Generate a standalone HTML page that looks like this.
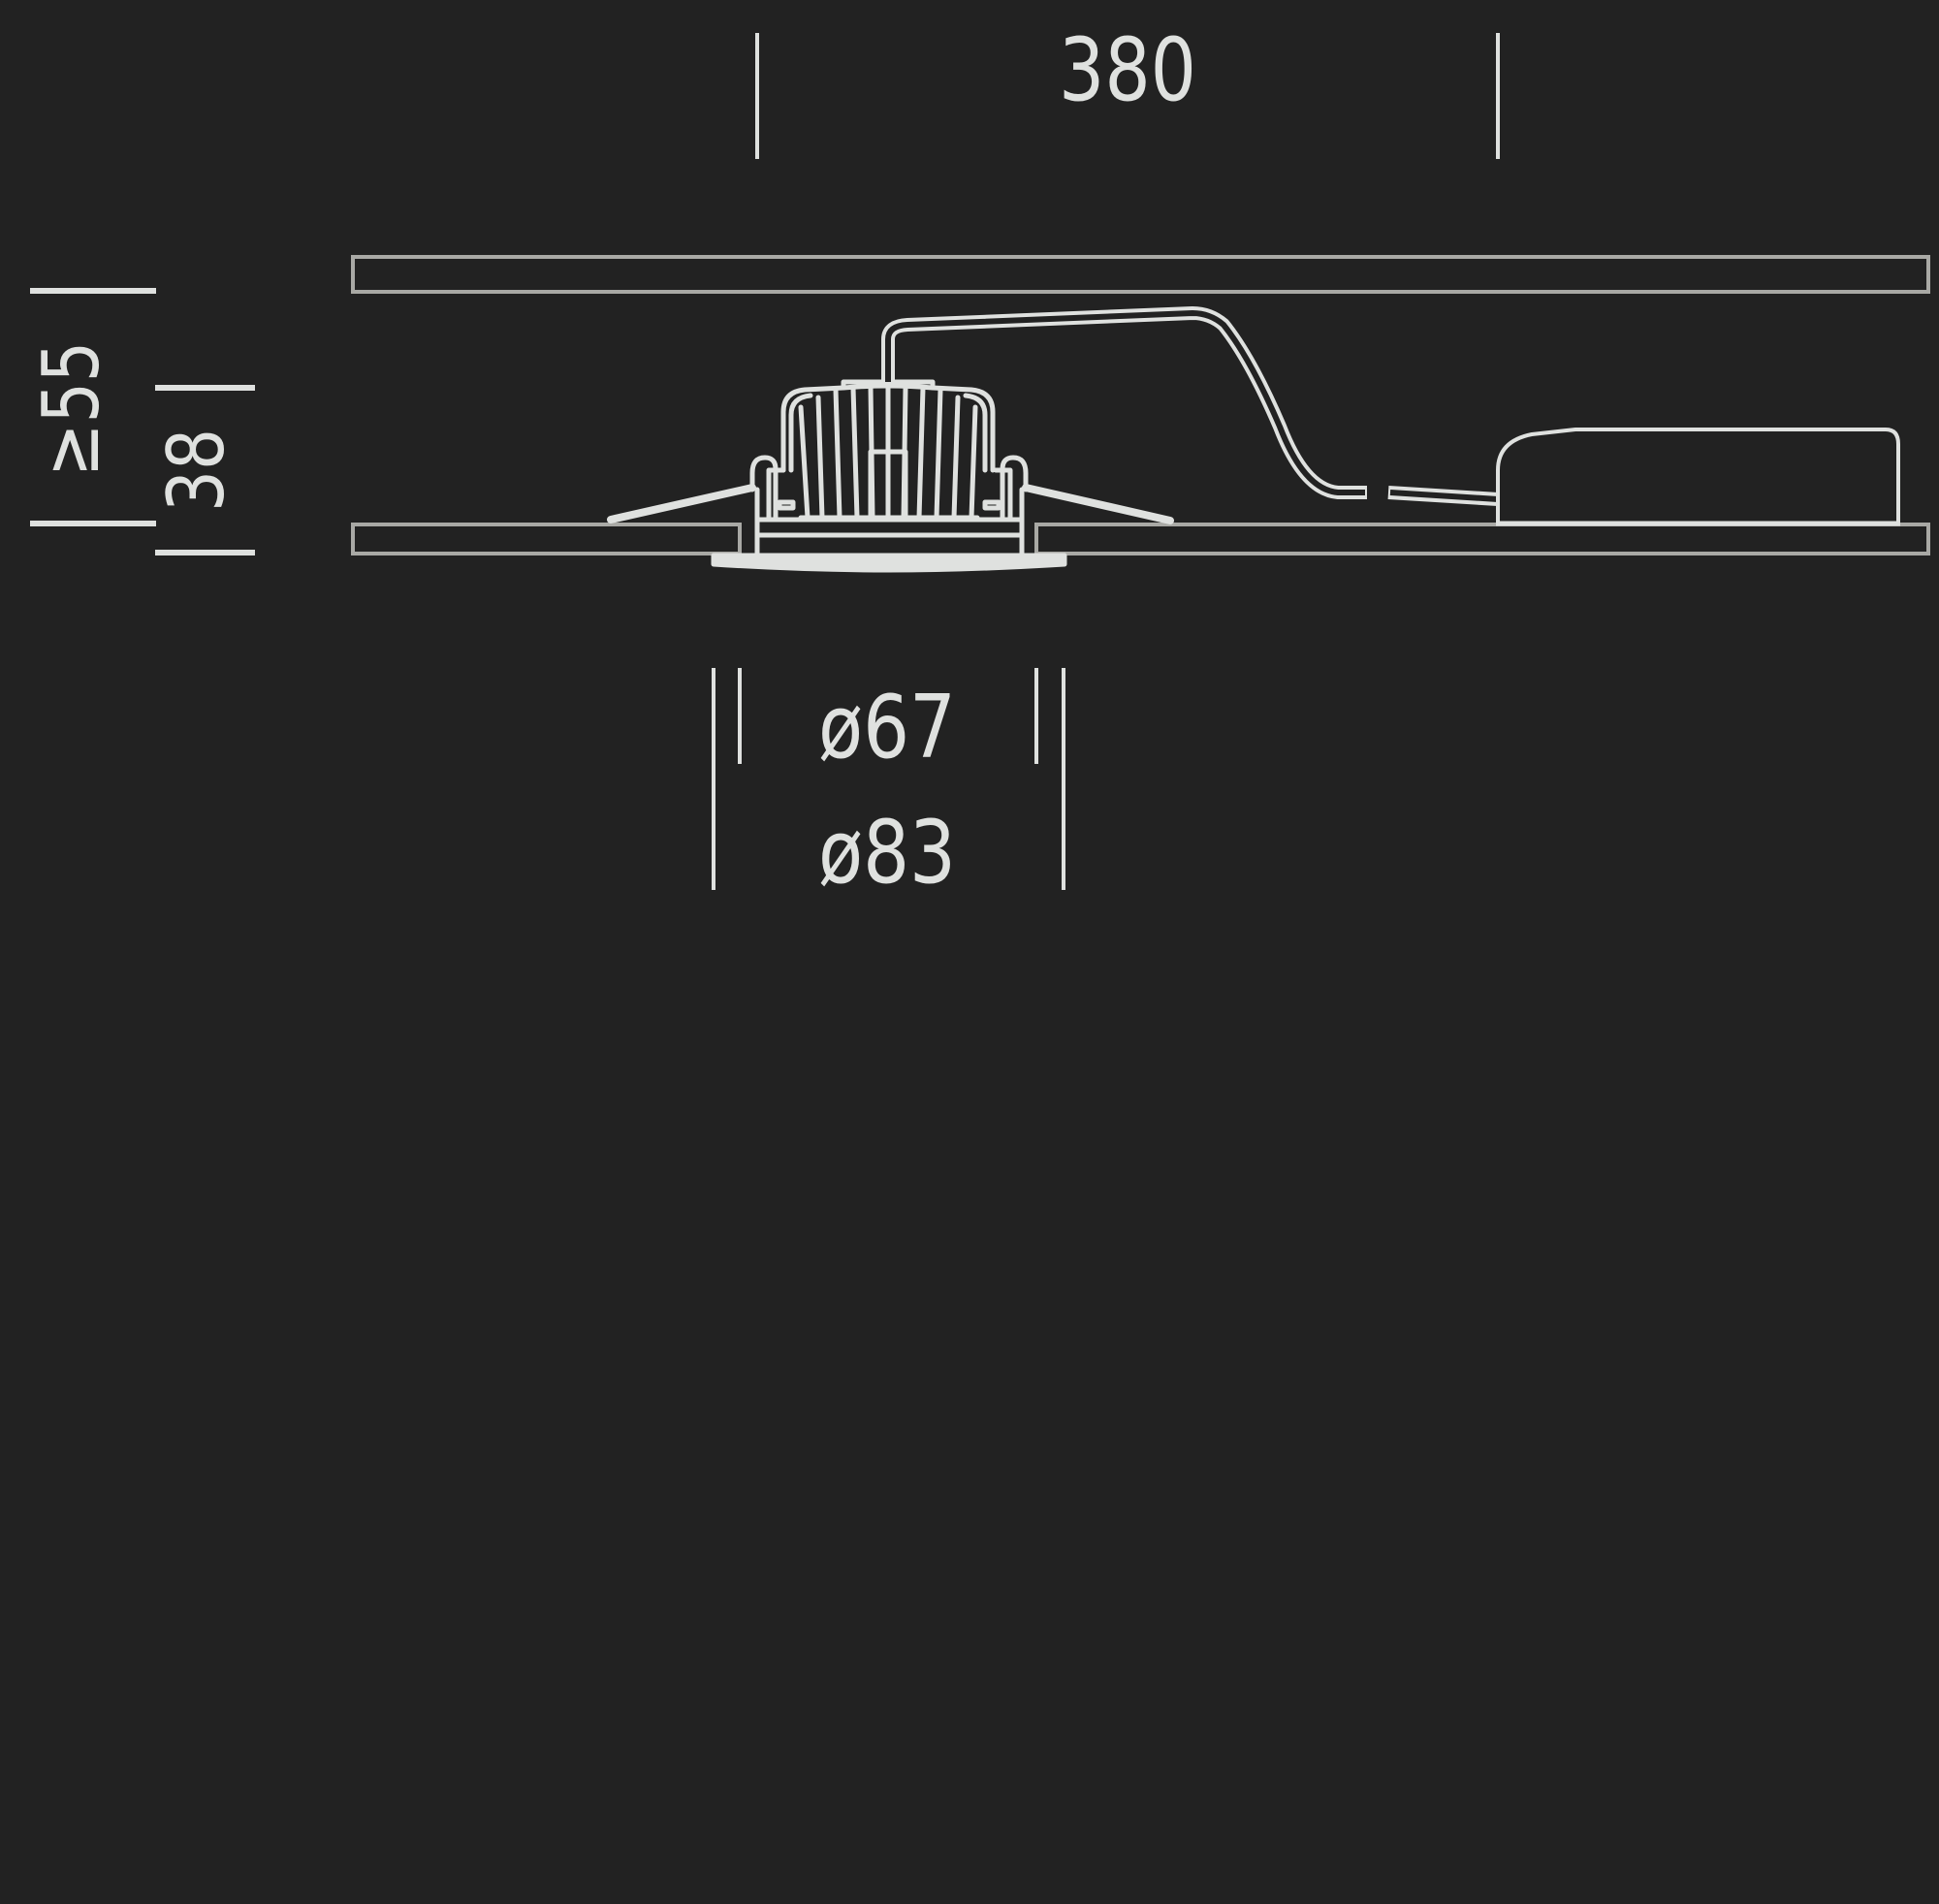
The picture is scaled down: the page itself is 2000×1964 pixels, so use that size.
<!DOCTYPE html>
<html><head><meta charset="utf-8"><style>
html,body{margin:0;padding:0;background:#222222;}
svg{display:block}
text{font-family:"DejaVu Sans Condensed","DejaVu Sans","Liberation Sans",sans-serif;fill:#dfe1df;}
</style></head><body>
<svg width="2000" height="1964" viewBox="0 0 2000 1964" xmlns="http://www.w3.org/2000/svg">
<rect width="2000" height="1964" fill="#222222"/>
<g stroke="#dfe1df" stroke-width="4" fill="none">
  <line x1="781" y1="34" x2="781" y2="164"/>
  <line x1="1545" y1="34" x2="1545" y2="164"/>
  <line x1="31" y1="300" x2="161" y2="300" stroke-width="6"/>
  <line x1="31" y1="540" x2="161" y2="540" stroke-width="6"/>
  <line x1="160" y1="400" x2="263" y2="400" stroke-width="6"/>
  <line x1="160" y1="570" x2="263" y2="570" stroke-width="6"/>
  <line x1="763" y1="689" x2="763" y2="788"/>
  <line x1="1069" y1="689" x2="1069" y2="788"/>
  <line x1="736" y1="689" x2="736" y2="918"/>
  <line x1="1097" y1="689" x2="1097" y2="918"/>
</g>
<g stroke="#a9a9a5" stroke-width="4" fill="none">
  <rect x="364" y="265" width="1625" height="36"/>
  <path d="M763 541 H364 V571 H763 Z"/>
  <path d="M1069 541 H1989 V571 H1069 Z"/>
</g>
<g stroke="#dfe1df" stroke-width="5" fill="none" stroke-linejoin="round" stroke-linecap="round">
  <path d="M736 573 H1098 V582 Q1000 588 916 588 Q830 588 736 582 Z" fill="#dfe1df"/>
  <path d="M781 572 V505 M1054 572 V505"/>
  <line x1="783" y1="552" x2="1052" y2="552"/>
  <line x1="783" y1="536" x2="1052" y2="536"/>
  <path d="M793 536 V485 H808"/>
  <path d="M1042 536 V485 H1027"/>
  <path d="M776 505 V488 Q776 472 789 472 Q800 472 800 484 V536"/>
  <path d="M1058 505 V488 Q1058 472 1045 472 Q1034 472 1034 484 V536"/>
  <line x1="630" y1="536" x2="776" y2="503" stroke-width="8"/>
  <line x1="1058" y1="503" x2="1207" y2="537" stroke-width="8"/>
  <path d="M808 485 V425 Q808 404 830 402 L870 400 Q916 396 962 400 L1002 402 Q1024 404 1024 425 V485"/>
  <path d="M816 485 V428 Q816 410 836 408"/>
  <path d="M1016 485 V428 Q1016 410 996 408"/>
  <path d="M833 534 L826 420 M848 534 L844 410 M866 534 L862 402 M884 534 L880 400 M900 534 L898 400 M916 534 L916 398 M932 534 L934 400 M948 534 L952 400 M966 534 L970 402 M984 534 L988 410 M1002 534 L1006 420"/>
  <path d="M898 534 V466 H934 V534"/>
  <line x1="826" y1="534" x2="1008" y2="534"/>
  <path d="M870 400 V394 H962 V400"/>
  <rect x="804" y="518" width="14" height="6"/>
  <rect x="1016" y="518" width="14" height="6"/>
</g>
<g fill="none" stroke-linejoin="round" stroke-linecap="butt">
  <path d="M916 396 V350 Q916 336 936 335 L1230 323 Q1248 323 1262 335 Q1290 370 1320 440 Q1345 505 1380 508 H1410" stroke="#dfe1df" stroke-width="14"/>
  <path d="M916 394 V350 Q916 336 936 335 L1230 323 Q1248 323 1262 335 Q1290 370 1320 440 Q1345 505 1380 508 H1408" stroke="#222222" stroke-width="6"/>
  <path d="M1432 508 L1545 515" stroke="#dfe1df" stroke-width="14"/>
  <path d="M1434 508 L1545 515" stroke="#222222" stroke-width="6"/>
</g>
<path d="M1545 540 V485 Q1545 455 1580 448 L1625 443 H1945 Q1958 443 1958 458 V540 Z" fill="none" stroke="#dfe1df" stroke-width="4" stroke-linejoin="round"/>
<line x1="1543" y1="540" x2="1960" y2="540" stroke="#dfe1df" stroke-width="5"/>
<text x="1163" y="103" font-size="90" text-anchor="middle" textLength="142" lengthAdjust="spacingAndGlyphs">380</text>
<text transform="translate(101,422) rotate(-90)" font-size="80" text-anchor="middle" textLength="140" lengthAdjust="spacingAndGlyphs">≥55</text>
<text transform="translate(230,485) rotate(-90)" font-size="80" text-anchor="middle" textLength="86" lengthAdjust="spacingAndGlyphs">38</text>
<text x="915" y="781" font-size="90" text-anchor="middle" textLength="142" lengthAdjust="spacingAndGlyphs">ø67</text>
<text x="915" y="910" font-size="90" text-anchor="middle" textLength="142" lengthAdjust="spacingAndGlyphs">ø83</text>
</svg>
</body></html>
